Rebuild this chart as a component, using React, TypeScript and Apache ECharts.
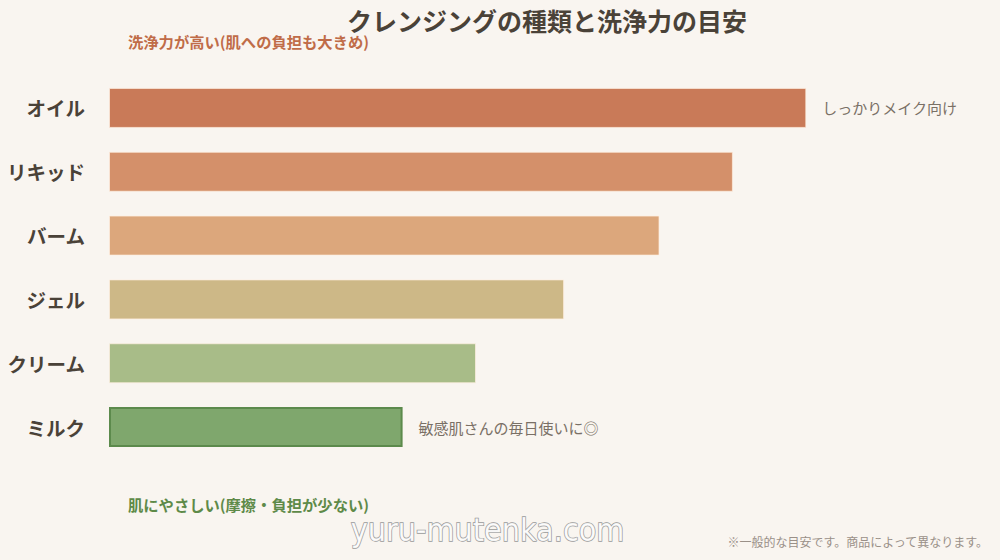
import React, { useEffect, useRef } from "react";
import * as echarts from "echarts";

const categories = ["オイル", "リキッド", "バーム", "ジェル", "クリーム", "ミルク"];
const values = [95, 85, 75, 62, 50, 40];
const barColors = ["#c97a58", "#d4906a", "#dca77c", "#cdb887", "#a8bc88", "#7fa76d"];
const notes = ["しっかりメイク向け", "", "", "", "", "敏感肌さんの毎日使いに◎"];

const FONT = '"Noto Sans CJK JP", "Noto Sans", sans-serif';

export default function App() {
  const ref = useRef<HTMLDivElement>(null);
  useEffect(() => {
    if (!ref.current) return;
    const chart = echarts.init(ref.current, null, { renderer: "svg" });
    chart.setOption({
      animation: false,
      backgroundColor: "#f9f5f0",
      textStyle: { fontFamily: FONT },
      title: {
        text: "クレンジングの種類と洗浄力の目安",
        left: 542,
        top: 2,
        textAlign: "center",
        textStyle: { fontSize: 25, fontWeight: "bold", color: "#4a4238", fontFamily: FONT },
      },
      grid: { left: 109, right: 157, top: 76, bottom: 101 },
      xAxis: {
        type: "value",
        min: 0,
        max: 100,
        show: false,
      },
      yAxis: {
        type: "category",
        data: categories,
        inverse: true,
        axisLine: { show: false },
        axisTick: { show: false },
        splitLine: { show: false },
        axisLabel: {
          margin: 24,
          fontSize: 19.5,
          fontWeight: "bold",
          color: "#4a4238",
          fontFamily: FONT,
        },
      },
      series: [
        {
          type: "bar",
          barWidth: 40,
          data: values.map((v, i) => ({
            value: v,
            itemStyle: {
              color: barColors[i],
              borderColor: i === 5 ? "#5c8a4c" : "rgba(255,240,225,0.7)",
              borderWidth: i === 5 ? 2 : 1,
            },
            label: {
              show: notes[i] !== "",
              position: "right",
              distance: 16,
              formatter: notes[i],
              fontSize: 15,
              color: "#7a7066",
              fontFamily: FONT,
            },
          })),
        },
      ],
      graphic: [
        {
          type: "text",
          left: 128,
          top: 33,
          style: {
            text: "洗浄力が高い(肌への負担も大きめ)",
            fill: "#c06c48",
            fontSize: 15.3,
            fontWeight: "bold",
            fontFamily: FONT,
          },
        },
        {
          type: "text",
          left: 128,
          top: 496,
          style: {
            text: "肌にやさしい(摩擦・負担が少ない)",
            fill: "#5e8a48",
            fontSize: 15.3,
            fontWeight: "bold",
            fontFamily: FONT,
          },
        },
        {
          type: "text",
          right: 11,
          top: 535,
          style: {
            text: "※一般的な目安です。商品によって異なります。",
            fill: "#9a9088",
            fontSize: 12,
            fontFamily: FONT,
          },
        },
        {
          type: "text",
          left: 350,
          top: 513,
          style: {
            text: "yuru-mutenka.com",
            fill: "rgba(255,255,255,0.9)",
            stroke: "#9a9a9a",
            lineWidth: 1.4,
            fontSize: 32,
            fontFamily: '"DejaVu Sans Condensed", "Noto Sans", sans-serif',
          },
        },
      ],
    });
    return () => chart.dispose();
  }, []);
  return (
    <div
      ref={ref}
      style={{ position: "fixed", left: 0, top: 0, width: 1000, height: 560 }}
    />
  );
}
